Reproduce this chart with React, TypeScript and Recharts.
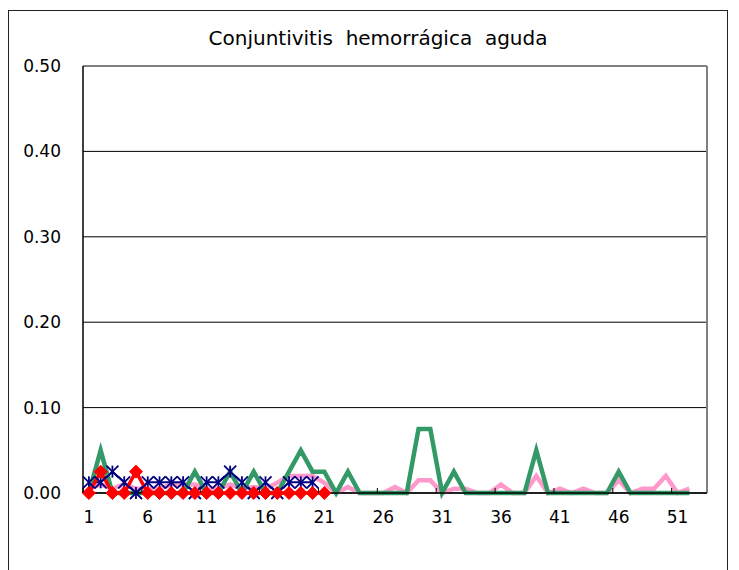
import React from 'react';
import { LineChart, Line, XAxis, YAxis, CartesianGrid, ReferenceLine } from 'recharts';

const titulo = 'Conjuntivitis  hemorrágica  aguda';

const semanas = [
  1, 2, 3, 4, 5, 6, 7, 8, 9, 10, 11, 12, 13, 14, 15, 16, 17, 18, 19, 20, 21, 22, 23, 24, 25, 26,
  27, 28, 29, 30, 31, 32, 33, 34, 35, 36, 37, 38, 39, 40, 41, 42, 43, 44, 45, 46, 47, 48, 49, 50, 51, 52,
];

const rosa = [
  0.005, 0.01, 0.005, 0.01, 0.005, 0.005, 0.005, 0.01, 0.01, 0.01, 0.005, 0.005, 0.01, 0.005, 0.007, 0.005,
  0.012, 0.02, 0.02, 0.02, 0.012, 0, 0.007, 0, 0, 0, 0.007, 0, 0.015, 0.015, 0, 0.005, 0.005, 0, 0, 0.01,
  0, 0, 0.02, 0, 0.005, 0, 0.005, 0, 0, 0.015, 0, 0.005, 0.005, 0.02, 0, 0.005,
];

const verde = [
  0, 0.05, 0, 0, 0, 0, 0, 0, 0, 0.025, 0, 0, 0.025, 0, 0.025, 0, 0, 0.025, 0.05, 0.025, 0.025, 0, 0.025, 0,
  0, 0, 0, 0, 0.075, 0.075, 0, 0.025, 0, 0, 0, 0, 0, 0, 0.05, 0, 0, 0, 0, 0, 0, 0.025, 0, 0, 0, 0, 0, 0,
];

const azul = [
  0.0125, 0.0125, 0.025, 0.0125, 0, 0.0125, 0.0125, 0.0125, 0.0125, 0, 0.0125, 0.0125, 0.025, 0.0125, 0,
  0.0125, 0, 0.0125, 0.0125, 0.0125,
];

const rojo = [0, 0.025, 0, 0, 0.025, 0, 0, 0, 0, 0, 0, 0, 0, 0, 0, 0, 0, 0, 0, 0, 0];

const ticksY = [0, 0.1, 0.2, 0.3, 0.4, 0.5];
const etiquetasX = [1, 6, 11, 16, 21, 26, 31, 36, 41, 46, 51];
const dominioX = [0.5, 53.5];

const data = semanas.map((s, i) => ({
  semana: s,
  rosa: rosa[i],
  verde: verde[i],
  azul: i < azul.length ? azul[i] : null,
  rojo: i < rojo.length ? rojo[i] : null,
}));

const ticksX = [...etiquetasX.map((v) => v - 0.5), ...etiquetasX].sort((a, b) => a - b);

const FONT = '"DejaVu Sans", sans-serif';

const XTick = (props: any) => {
  const { x, y, payload } = props;
  const v = payload.value;
  if (Number.isInteger(v)) {
    return (
      <text x={x} y={y + 30} textAnchor="middle" fontSize={17} fontFamily={FONT} fill="#000">
        {v}
      </text>
    );
  }
  return <line x1={x} x2={x} y1={y} y2={y - 5} stroke="#000" strokeWidth={1} />;
};

const Asterisco = (props: any) => {
  const { cx, cy, index } = props;
  if (cx == null || cy == null || props.value == null) return <g key={`a${index}`} />;
  const r = 6;
  return (
    <g key={`a${index}`} stroke="#000080" strokeWidth={1.8}>
      <line x1={cx} y1={cy - r} x2={cx} y2={cy + r} />
      <line x1={cx - r} y1={cy - r} x2={cx + r} y2={cy + r} />
      <line x1={cx - r} y1={cy + r} x2={cx + r} y2={cy - r} />
    </g>
  );
};

const Diamante = (props: any) => {
  const { cx, cy, index } = props;
  if (cx == null || cy == null || props.value == null) return <g key={`d${index}`} />;
  const r = 6.5;
  return (
    <polygon
      key={`d${index}`}
      points={`${cx},${cy - r} ${cx + r},${cy} ${cx},${cy + r} ${cx - r},${cy}`}
      fill="#FF0000"
      stroke="#FF0000"
    />
  );
};

export default function App() {
  return (
    <div
      style={{
        position: 'relative',
        top: 2,
        width: 718,
        height: 570,
        border: '1px solid #222',
        background: '#fff',
      }}
    >
      <div
        style={{
          position: 'absolute',
          top: 15,
          left: 20,
          right: 0,
          textAlign: 'center',
          fontFamily: FONT,
          fontSize: 20,
          lineHeight: '24px',
          whiteSpace: 'pre',
          color: '#000',
        }}
      >
        {titulo}
      </div>
      <LineChart width={718} height={570} data={data} margin={{ top: 55, right: 20, left: 14, bottom: 58 }}>
        <CartesianGrid horizontal vertical={false} stroke="#000" strokeWidth={1} />
        <XAxis
          dataKey="semana"
          type="number"
          domain={dominioX}
          ticks={ticksX}
          interval={0}
          height={30}
          tickLine={false}
          tickSize={0}
          tickMargin={0}
          axisLine={{ stroke: '#000', strokeWidth: 1.5 }}
          tick={<XTick />}
        />
        <YAxis
          type="number"
          domain={[0, 0.5]}
          ticks={ticksY}
          width={60}
          tickLine={false}
          tickSize={0}
          tickMargin={22}
          axisLine={{ stroke: '#000', strokeWidth: 1.5 }}
          tickFormatter={(v: number) => v.toFixed(2)}
          tick={{ fontSize: 17, fontFamily: FONT, fill: '#000' }}
        />
        <ReferenceLine x={dominioX[1]} stroke="#808080" strokeWidth={2} />
        <Line dataKey="rosa" stroke="#FF99CC" strokeWidth={4.5} dot={false} isAnimationActive={false} />
        <Line dataKey="azul" stroke="#000080" strokeWidth={2} dot={Asterisco} isAnimationActive={false} />
        <Line dataKey="verde" stroke="#339966" strokeWidth={4.5} dot={false} isAnimationActive={false} />
        <Line dataKey="rojo" stroke="#FF0000" strokeWidth={3.5} dot={Diamante} isAnimationActive={false} />
      </LineChart>
    </div>
  );
}
